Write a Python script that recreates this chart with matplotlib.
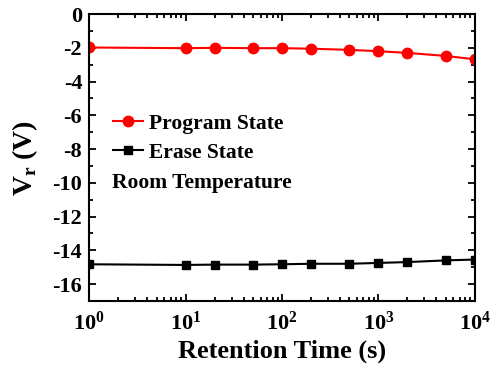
import matplotlib
matplotlib.use("Agg")
import matplotlib.pyplot as plt
from matplotlib.ticker import LogLocator, MultipleLocator, NullFormatter

time_s = [1, 10, 20, 50, 100, 200, 500, 1000, 2000, 5000, 10000]
program_v = [-1.98, -2.02, -2.0, -2.02, -2.02, -2.05, -2.12, -2.2, -2.3, -2.48, -2.68]
erase_v = [-14.83, -14.87, -14.85, -14.85, -14.83, -14.8, -14.8, -14.75, -14.7, -14.6, -14.55]

plt.rcParams['font.family'] = ['Liberation Serif', 'DejaVu Serif']
plt.rcParams['font.weight'] = 'bold'
plt.rcParams['axes.unicode_minus'] = False
plt.rcParams['mathtext.fontset'] = 'custom'
plt.rcParams['mathtext.rm'] = 'Liberation Serif:bold'
plt.rcParams['mathtext.bf'] = 'Liberation Serif:bold'

fig = plt.figure(figsize=(4.9, 3.71), dpi=100)
ax = fig.add_axes([0.182, 0.189, 0.787, 0.773])

ax.plot(time_s, program_v, color='#ff0000', marker='o', markersize=7.5, lw=1.5, label='Program State')
ax.plot(time_s, erase_v, color='black', marker='s', markersize=6, lw=1.5, label='Erase State')

ax.set_xscale('log')
ax.set_xlim(1, 1e4)
ax.set_ylim(-17, 0)
ax.yaxis.set_major_locator(MultipleLocator(2))
ax.yaxis.set_minor_locator(MultipleLocator(1))
ax.xaxis.set_major_locator(LogLocator(base=10, numticks=10))
ax.xaxis.set_minor_locator(LogLocator(base=10, subs=range(2, 10), numticks=20))
ax.xaxis.set_minor_formatter(NullFormatter())

for s in ax.spines.values():
    s.set_linewidth(1.5)
ax.tick_params(which='both', direction='in', top=True, right=True, width=1.3)
ax.tick_params(which='major', length=5, labelsize=16)
ax.tick_params(axis='x', which='major', pad=8)
ax.tick_params(axis='y', which='major', pad=5)
ax.tick_params(which='minor', length=3)
for lab in ax.get_xticklabels() + ax.get_yticklabels():
    lab.set_fontweight('bold')

ax.set_xlabel('Retention Time (s)', fontsize=19, fontweight='bold', labelpad=3)
ax.set_ylabel(r'V$_\mathregular{r}$ (V)', fontsize=20, fontweight='bold', labelpad=9)

ax.legend(loc='upper left', bbox_to_anchor=(0.061, 0.652), frameon=False,
          prop={'family': 'Liberation Serif', 'weight': 'bold', 'size': 15.5},
          handlelength=1.4, handletextpad=0.3, labelspacing=0.4,
          borderaxespad=0, borderpad=0)
ax.text(0.06, 0.41, 'Room Temperature', transform=ax.transAxes, fontsize=15.5,
        fontweight='bold', va='center', ha='left')

fig.savefig('out.png', dpi=100)
